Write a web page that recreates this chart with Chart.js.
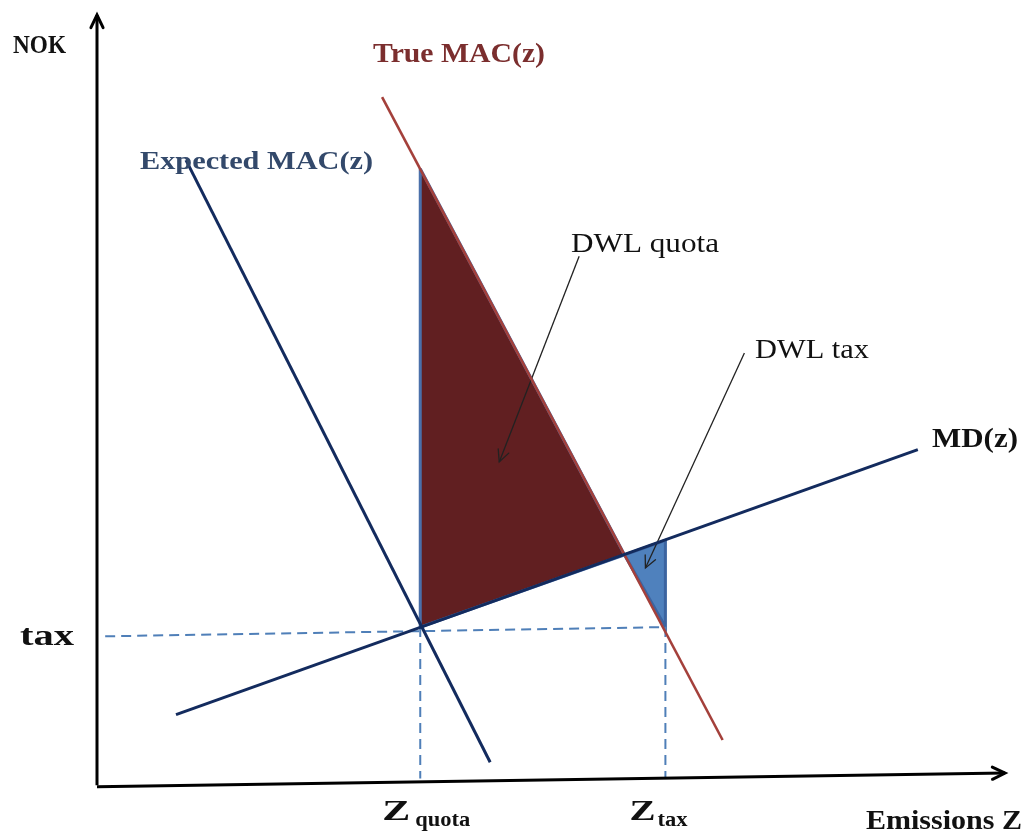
<!DOCTYPE html>
<html>
<head>
<meta charset="utf-8">
<script src="https://cdn.jsdelivr.net/npm/chart.js@4/dist/chart.umd.min.js"></script>
<style>
  html, body { margin: 0; padding: 0; background: #fff; }
  #wrap { width: 1027px; height: 834px; position: relative; }
</style>
</head>
<body>
<div id="wrap"><canvas id="myChart"></canvas></div>
<script>
// curve end points (x = emissions, y = NOK, both 0..100)
const expectedMAC = [{x: 9.8, y: 81.1}, {x: 43.3, y: 2.7}];
const trueMAC = [{x: 31.4, y: 89.3}, {x: 68.9, y: 5.6}];
const marginalDamage = [{x: 8.7, y: 8.9}, {x: 90.4, y: 43.4}];

const zQuota = 35.6;
const zTax = 62.6;
const taxLevel = 20.3;

// deadweight loss areas
const dwlQuota = [{x: 35.6, y: 80.0}, {x: 35.6, y: 20.3}, {x: 58.1, y: 29.7}, {x: 35.6, y: 80.0}];
const dwlTax = [{x: 58.1, y: 29.7}, {x: 62.6, y: 31.6}, {x: 62.6, y: 20.3}, {x: 58.1, y: 29.7}];

// guide lines and axes
const taxGuide = [{x: 0.9, y: 19.1}, {x: zTax, y: taxLevel}];
const quotaGuide = [{x: zQuota, y: taxLevel}, {x: zQuota, y: 0.6}];
const ztaxGuide = [{x: zTax, y: taxLevel}, {x: zTax, y: 0.6}];
const yAxisLine = [{x: 0, y: -0.3}, {x: 0, y: 100}];
const xAxisLine = [{x: 0, y: -0.5}, {x: 100, y: 1.3}];

// pointers from the labels into the areas
const quotaPointer = [{x: 53.1, y: 68.6}, {x: 44.3, y: 41.8}];
const taxPointer = [{x: 71.3, y: 56.0}, {x: 60.4, y: 28.0}];

const serif = '"Liberation Serif", "DejaVu Serif", serif';

function line(data, color, width, extra) {
  return Object.assign({
    data: data, showLine: true, borderColor: color, borderWidth: width,
    pointRadius: 0, fill: false, clip: false, order: 1
  }, extra || {});
}

// draw text squeezed/stretched to the width it has in the picture
function fitText(ctx, text, x, baseline, width, size, weight, color) {
  ctx.font = `${weight} ${size}px ${serif}`;
  const w = ctx.measureText(text).width;
  ctx.save();
  ctx.translate(x, baseline);
  ctx.scale(width / w, 1);
  ctx.fillStyle = color;
  ctx.textBaseline = 'alphabetic';
  ctx.textAlign = 'left';
  ctx.fillText(text, 0, 0);
  ctx.restore();
}

function arrowHead(ctx, chart, pts, len, color, width) {
  const xs = chart.scales.x, ys = chart.scales.y;
  const a = {x: xs.getPixelForValue(pts[0].x), y: ys.getPixelForValue(pts[0].y)};
  const b = {x: xs.getPixelForValue(pts[1].x), y: ys.getPixelForValue(pts[1].y)};
  const ang = Math.atan2(b.y - a.y, b.x - a.x);
  ctx.save();
  ctx.strokeStyle = color;
  ctx.lineWidth = width;
  ctx.lineCap = 'round';
  ctx.beginPath();
  ctx.moveTo(b.x - len * Math.cos(ang - 0.45), b.y - len * Math.sin(ang - 0.45));
  ctx.lineTo(b.x, b.y);
  ctx.lineTo(b.x - len * Math.cos(ang + 0.45), b.y - len * Math.sin(ang + 0.45));
  ctx.stroke();
  ctx.restore();
}

const annotations = {
  id: 'annotations',
  afterDatasetsDraw(chart) {
    const ctx = chart.ctx;
    const xs = chart.scales.x, ys = chart.scales.y;
    arrowHead(ctx, chart, yAxisLine, 14, '#000', 3);
    arrowHead(ctx, chart, xAxisLine, 14, '#000', 3);
    arrowHead(ctx, chart, quotaPointer, 13, '#222', 1.3);
    arrowHead(ctx, chart, taxPointer, 13, '#222', 1.3);

    const qx = xs.getPixelForValue(zQuota);
    const tx = xs.getPixelForValue(zTax);
    const ty = ys.getPixelForValue(taxGuide[0].y);

    fitText(ctx, 'NOK', 13, 53, 53, 26, 'bold', '#111');
    fitText(ctx, 'True MAC(z)', 373, 62, 172, 28, 'bold', '#7b2e2e');
    fitText(ctx, 'Expected MAC(z)', 140, 169, 233, 26, 'bold', '#33496b');
    fitText(ctx, 'DWL quota', 571, 252, 148, 28, 'normal', '#111');
    fitText(ctx, 'DWL tax', 755, 358, 114, 28, 'normal', '#111');
    fitText(ctx, 'MD(z)', 932, 447, 86, 27, 'bold', '#111');
    fitText(ctx, 'tax', 20, ty + 9, 54, 30, 'bold', '#111');
    fitText(ctx, 'Z', qx - 38, 820, 28, 30, 'bold', '#111');
    fitText(ctx, 'quota', qx - 5, 826, 55, 20, 'bold', '#111');
    fitText(ctx, 'Z', tx - 36, 820, 26, 30, 'bold', '#111');
    fitText(ctx, 'tax', tx - 8, 826, 30, 20, 'bold', '#111');
    fitText(ctx, 'Emissions Z', 866, 829, 156, 27, 'bold', '#111');
  }
};

const ctx = document.getElementById('myChart');

new Chart(ctx, {
  type: 'scatter',
  data: {
    datasets: [
      line(dwlQuota, '#4a70aa', 3, {fill: 'shape', backgroundColor: '#611f21', order: 10}),
      line(dwlTax, '#3c64a0', 3, {fill: 'shape', backgroundColor: '#4f81bd', order: 10}),
      line(taxGuide, '#4f7fb8', 2, {borderDash: [10, 6], order: 8}),
      line(quotaGuide, '#4f7fb8', 2, {borderDash: [10, 6], order: 8}),
      line(ztaxGuide, '#4f7fb8', 2, {borderDash: [10, 6], order: 8}),
      line(expectedMAC, '#132b5e', 3),
      line(marginalDamage, '#132b5e', 3),
      line(trueMAC, '#a4403b', 2.6),
      line(quotaPointer, '#222', 1.3),
      line(taxPointer, '#222', 1.3),
      line(yAxisLine, '#000', 3),
      line(xAxisLine, '#000', 3)
    ]
  },
  options: {
    responsive: true,
    maintainAspectRatio: false,
    animation: false,
    layout: { padding: { left: 97, right: 22, top: 15, bottom: 51 } },
    scales: {
      x: { type: 'linear', min: 0, max: 100, display: false },
      y: { type: 'linear', min: 0, max: 100, display: false }
    },
    plugins: {
      legend: { display: false },
      tooltip: { enabled: false }
    }
  },
  plugins: [annotations]
});
</script>
</body>
</html>
